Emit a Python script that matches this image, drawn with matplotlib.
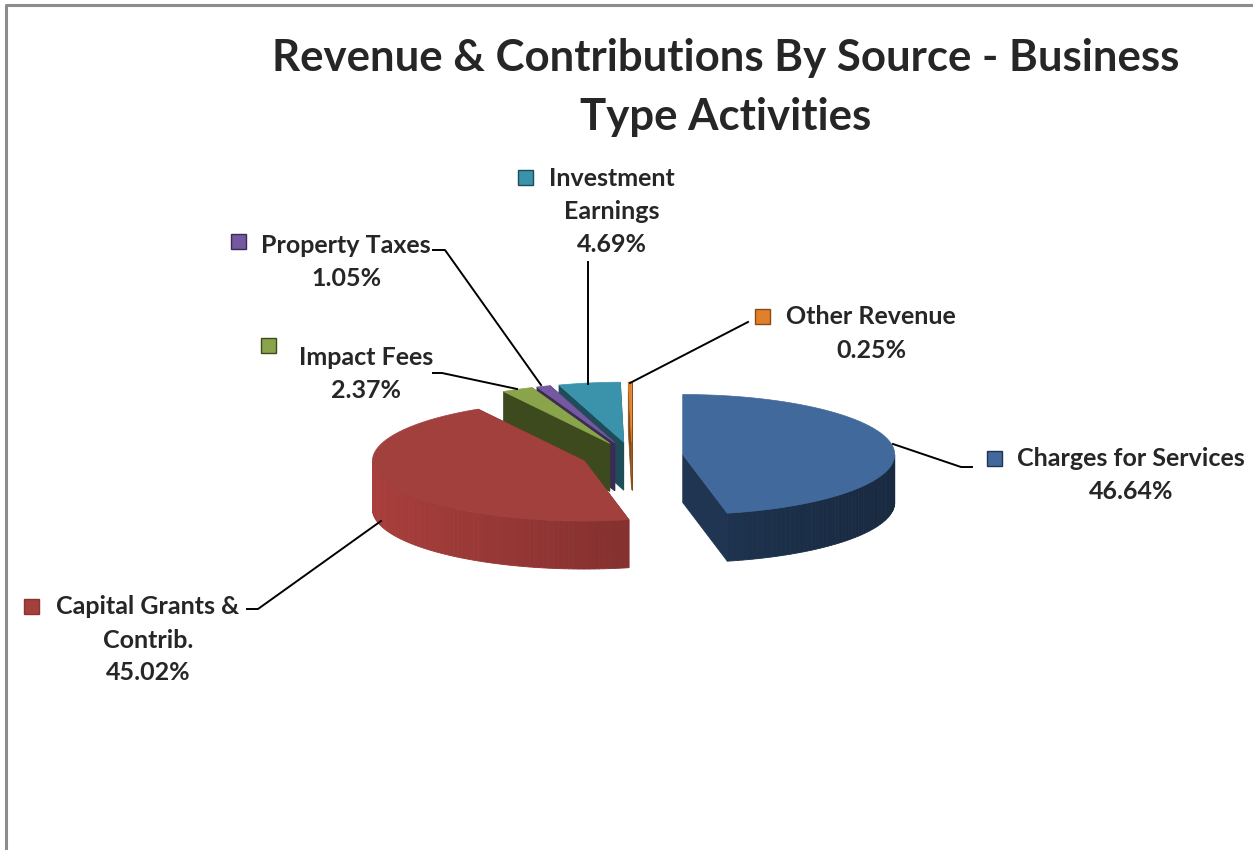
import numpy as np
import matplotlib.pyplot as plt
from matplotlib.patches import Polygon, Rectangle
from matplotlib.colors import to_rgb

# data
labels = ["Charges for Services", "Capital Grants &\nContrib.", "Impact Fees",
          "Property Taxes", "Investment\nEarnings", "Other Revenue"]
shares = [46.64, 45.02, 2.37, 1.05, 4.69, 0.25]
top_colors = ["#41699B", "#A2403D", "#89A44B", "#7558A0", "#3A93AB", "#E0802C"]
side_colors = ["#1F3552", "#8A3331", "#3C4A1E", "#3A2B55", "#1E4C59", "#8A4A15"]

# label layout (pixel coords): text centre, marker box, leader line
label_pos = [(1131, 458), (148, 607), (366, 357), (346, 245), (612, 178), (871, 317)]
marker_pos = [(987, 451), (24, 599), (261, 338), (231, 234), (518, 170), (755, 309)]
leaders = [
    [(893, 444), (961, 467), (972, 467)],
    [(381, 521), (258, 609), (247, 609)],
    [(517, 389), (442, 373), (433, 373)],
    [(541, 385), (445, 250), (433, 250)],
    [(588, 384), (588, 262)],
    [(630, 383), (748, 322)],
]

plt.rcParams['font.family'] = ['Lato', 'DejaVu Sans']

fig = plt.figure(figsize=(12.53, 8.5), dpi=100)
ax = fig.add_axes([0, 0, 1, 1])
ax.set_xlim(0, 1253)
ax.set_ylim(850, 0)
ax.axis("off")

# frame
ax.plot([6, 6, 1253], [850, 4.5, 4.5], color="#8c8c8c", lw=2.2)

# 3D pie geometry
cx, cy = 632, 456
rx, ry = 212, 60
depth = 48
ex, ey = 51, 14


def pt(t, ox, oy, z=0):
    return (ox + rx * np.cos(t), oy - ry * np.sin(t) + z)


def shade(c, f):
    r, g, b = to_rgb(c)
    return (min(r * f, 1), min(g * f, 1), min(b * f, 1))


angles = 360 * np.array(shares) / sum(shares)
a_end = 90 - np.concatenate([[0], np.cumsum(angles)])
slices = []
for i in range(len(shares)):
    a1 = np.radians(a_end[i])
    a2 = np.radians(a_end[i + 1])
    mid = (a1 + a2) / 2
    ox = cx + ex * np.cos(mid)
    oy = cy - ey * np.sin(mid)
    slices.append((i, a1, a2, mid, ox, oy))

# back to front
slices.sort(key=lambda s: -np.sin(s[3]))

for i, a1, a2, mid, ox, oy in slices:
    # cut faces
    faces = []
    for a, nrm in [(a1, a1 + np.pi / 2), (a2, a2 - np.pi / 2)]:
        quad = [(ox, oy), pt(a, ox, oy), pt(a, ox, oy, depth), (ox, oy + depth)]
        faces.append((np.sin(nrm), quad))
    faces.sort(key=lambda f: -f[0])
    for s, quad in faces:
        ax.add_patch(Polygon(quad, closed=True, fc=side_colors[i],
                             ec=side_colors[i], lw=0.5))
    # outer rim (front half only), shaded
    t = np.linspace(a2, a1, 120)
    for k in range(len(t) - 1):
        tm = (t[k] + t[k + 1]) / 2
        if np.sin(tm) > 0:
            continue
        f = 1.0 - 0.22 * np.cos(tm)
        col = shade(side_colors[i], f)
        quad = [pt(t[k], ox, oy), pt(t[k + 1], ox, oy),
                pt(t[k + 1], ox, oy, depth), pt(t[k], ox, oy, depth)]
        ax.add_patch(Polygon(quad, closed=True, fc=col, ec=col, lw=0.6))
    # top face
    arc = [pt(a, ox, oy) for a in np.linspace(a1, a2, 150)]
    ax.add_patch(Polygon([(ox, oy)] + arc, closed=True, fc=top_colors[i],
                         ec=top_colors[i], lw=0.5))

# title
ax.text(726, 58, "Revenue & Contributions By Source - Business",
        ha="center", va="center", fontsize=31.5, fontweight="bold", color="#262626")
ax.text(726, 117, "Type Activities",
        ha="center", va="center", fontsize=31.5, fontweight="bold", color="#262626")

# data labels
for i in range(len(shares)):
    x, y = label_pos[i]
    lines = labels[i].split("\n") + ["%.2f%%" % shares[i]]
    for k, line in enumerate(lines):
        ax.text(x, y + 33 * k, line, ha="center", va="center", fontsize=18,
                fontweight="bold", color="#262626")
    mx, my = marker_pos[i]
    ax.add_patch(Rectangle((mx, my), 15, 15, fc=top_colors[i],
                           ec=side_colors[i], lw=1))
    xs, ys = zip(*leaders[i])
    ax.plot(xs, ys, color="black", lw=1.4)

fig.savefig("out.png", dpi=100)
